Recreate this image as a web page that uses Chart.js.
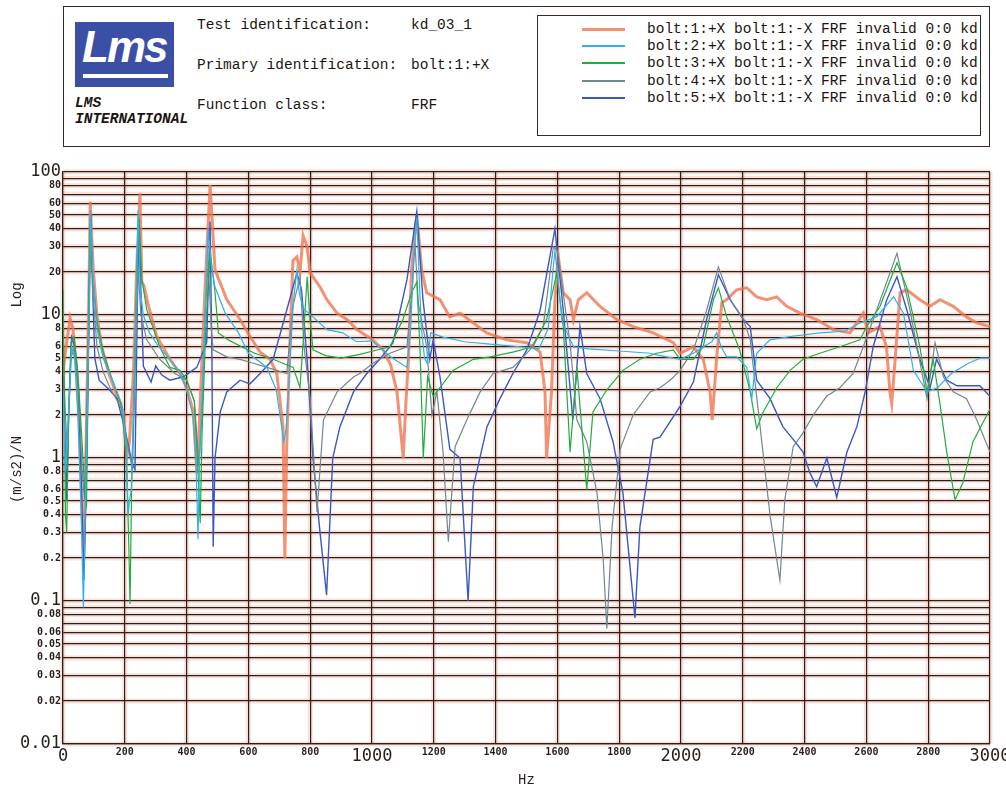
<!doctype html>
<html lang="en">
  <head>
    <meta charset="UTF-8" />
    <title>FRF bolt:1:+X</title>
    <script src="https://cdn.jsdelivr.net/npm/chart.js"></script>
    <style>
      body { margin: 0; background: #fff; font-family: "Liberation Mono", monospace; color: #1c1410; }
      .abs { position: absolute; white-space: pre; }
      #hdr { position: absolute; left: 63px; top: 6px; width: 925px; height: 139px; border: 1.5px solid #3a2824; }
      #logo { position: absolute; left: 75px; top: 22px; width: 99px; height: 65px; background: #3c4fa6; overflow: hidden; }
      #logo span { position: absolute; left: 7px; top: 0px; font: italic bold 44px "Liberation Sans", sans-serif; color: #fff; letter-spacing: -2px; }
      #logo i { position: absolute; left: 8px; right: 6px; bottom: 9px; height: 4px; background: #fff; }
      .txt { font-size: 14.5px; line-height: 16px; }
      #legbox { position: absolute; left: 537px; top: 15px; width: 442px; height: 119px; border: 1.5px solid #3a2824; }
      .sw { position: absolute; left: 582px; width: 43px; }
      #wrap { position: absolute; left: 0; top: 150px; width: 1006px; height: 639px; }
    </style>
  </head>
  <body>
    <div id="hdr"></div>
    <div id="logo"><span>Lms</span><i></i></div>
    <div class="abs txt" style="left:75px; top:95px; font-style:italic; font-weight:bold">LMS
INTERNATIONAL</div>
    <div class="abs txt" style="left:197px; top:17px">Test identification:</div>
    <div class="abs txt" style="left:411px; top:17px">kd_03_1</div>
    <div class="abs txt" style="left:197px; top:57px">Primary identification:</div>
    <div class="abs txt" style="left:411px; top:57px">bolt:1:+X</div>
    <div class="abs txt" style="left:197px; top:97px">Function class:</div>
    <div class="abs txt" style="left:411px; top:97px">FRF</div>
    <div id="legbox"></div>
    <div id="legend"></div>

    <div id="wrap"><canvas id="frf"></canvas></div>

    <script>
      // series labels and colours
      const seriesLabels = [
        "bolt:1:+X bolt:1:-X FRF invalid 0:0 kd",
        "bolt:2:+X bolt:1:-X FRF invalid 0:0 kd",
        "bolt:3:+X bolt:1:-X FRF invalid 0:0 kd",
        "bolt:4:+X bolt:1:-X FRF invalid 0:0 kd",
        "bolt:5:+X bolt:1:-X FRF invalid 0:0 kd",
      ];
      const seriesColors = ["rgba(240,118,82,0.8)", "#2fb2ea", "#1fad3e", "#6f8891", "#3a58c4"];
      const seriesWidths = [3, 1.2, 1.2, 1.2, 1.4];

      // [Hz, (m/s2)/N]
      const bolt1 = [[0,4],[10,6],[23,9.5],[32,8],[42,4.5],[52,2],[60,0.5],[66,0.22],[72,0.6],[78,3],[84,15],[88,62],[98,20.7],[110,10],[125,6],[152,3.7],[175,2.7],[195,2.1],[201,1.4],[206,1.0],[215,1.3],[228,4],[238,20],[249,71],[255,17],[262,16],[275,12],[303,7.1],[346,4.9],[379,3.9],[400,3.1],[422,2.1],[433,0.79],[440,1.5],[450,5],[462,20],[476,81],[492,20.7],[530,12.8],[573,9.3],[605,7.1],[638,5.5],[670,4.9],[692,3.9],[712,1.65],[718,0.2],[724,1.2],[734,6],[744,24],[757,25.5],[767,20],[777,36],[790,30],[800,19.7],[832,15.7],[854,12.8],[887,10.3],[919,9.3],[951,7.9],[1003,6.7],[1036,5.7],[1060,4.5],[1081,2.9],[1101,1.0],[1110,2.5],[1118,4.9],[1128,20.7],[1145,50],[1161,20.7],[1177,14.3],[1220,12.8],[1252,9.7],[1285,10.3],[1328,8.8],[1371,7.5],[1436,6.7],[1501,6.4],[1544,5.5],[1560,2.9],[1565,1.0],[1581,2.9],[1592,12.8],[1603,25.5],[1619,14.3],[1641,12.8],[1652,9.3],[1668,12.8],[1695,14.3],[1738,11.5],[1792,9.3],[1846,8.3],[1910,7.5],[1975,6.4],[1997,5.4],[2040,6.0],[2072,4.9],[2094,2.9],[2101,1.85],[2115,4.9],[2132,12.2],[2148,12.8],[2180,15],[2213,15.5],[2245,13.4],[2277,12.8],[2310,13.4],[2342,11.5],[2385,10.3],[2439,9.3],[2493,7.9],[2547,7.5],[2590,10.3],[2606,7.5],[2644,8.3],[2665,6.0],[2676,2.9],[2682,2.4],[2693,4.9],[2709,14.3],[2730,15],[2773,12.8],[2806,11.5],[2838,12.8],[2881,11.5],[2924,9.7],[2957,8.8],[3000,8.3]];
      const bolt2 = [[0,3],[8,0.8],[15,1.5],[28,6],[38,5],[48,2],[58,0.5],[66,0.09],[72,0.4],[80,3],[86,15],[89,54],[96,20],[110,8],[130,5],[160,3.5],[190,2.4],[205,1.2],[211,0.4],[215,0.5],[221,0.6],[230,3],[238,15],[243,54],[250,15],[260,10],[280,7.5],[310,6],[346,4.9],[380,3.9],[400,3.0],[420,2],[430,1.0],[437,0.27],[442,1],[455,5],[470,40],[480,22],[492,15.7],[525,10.3],[568,7.5],[600,5.4],[660,4.3],[690,3],[705,1.8],[715,1.3],[722,1.6],[730,3],[745,12],[757,20.7],[765,14],[780,11],[809,9.7],[854,7.9],[905,7.5],[950,6.5],[1000,6.6],[1060,5.1],[1113,4.3],[1125,8],[1135,25],[1145,48],[1152,20],[1160,8],[1170,5],[1178,4.6],[1190,7.5],[1230,7],[1300,6.5],[1400,6.2],[1480,6.0],[1540,5.8],[1570,8],[1585,20],[1592,28],[1600,20],[1615,9],[1652,6.0],[1700,5.8],[1800,5.6],[1900,5.4],[1932,5.2],[1997,4.9],[2040,5.4],[2072,6.0],[2100,6.5],[2115,7.5],[2130,6],[2148,5.1],[2180,5.1],[2213,4.3],[2229,2.6],[2245,5.4],[2288,6.7],[2360,7.1],[2450,7.5],[2530,7.7],[2579,8.8],[2633,9.7],[2688,13.4],[2720,10.3],[2752,4.1],[2796,2.9],[2830,3.1],[2875,3.9],[2930,4.6],[2970,5.0],[3000,5.0]];
      const bolt3 = [[0,15],[4,3],[8,0.4],[12,0.3],[18,2],[26,6.5],[36,7],[48,4],[60,1.5],[70,0.6],[76,0.45],[80,2],[85,20],[88,48],[95,20],[110,9],[130,5.5],[160,3.5],[190,2.3],[205,1.0],[212,0.3],[217,0.095],[222,0.6],[232,5],[240,25],[246,48],[255,18],[271,10.9],[313,6.0],[346,4.3],[379,4.1],[400,3.5],[425,2.5],[435,1.0],[444,0.35],[450,1.5],[462,8],[476,28.5],[492,14.3],[503,7.5],[535,6.7],[578,6.0],[620,5.4],[680,4.9],[745,4.3],[767,3.1],[780,8],[790,18.5],[800,9],[809,5.7],[850,5.2],[900,5.0],[961,5.3],[1003,5.6],[1058,6.0],[1100,9.3],[1128,14.3],[1145,17],[1155,6],[1166,1.0],[1180,3.7],[1198,2.7],[1220,3.1],[1262,4.1],[1328,4.9],[1382,5.1],[1456,5.5],[1521,6.0],[1565,9.3],[1598,19.7],[1619,8.3],[1641,1.1],[1663,4.3],[1695,0.6],[1715,2.1],[1760,3.0],[1812,4.1],[1867,4.9],[1921,5.4],[1975,5.7],[1997,4.9],[2040,4.9],[2072,6.0],[2105,12.8],[2121,15.5],[2148,9.7],[2190,5.7],[2224,2.9],[2245,1.6],[2266,2.1],[2310,3.1],[2353,4.1],[2395,4.9],[2449,5.4],[2514,6.0],[2579,6.7],[2601,8.3],[2644,11.5],[2699,23.2],[2730,15.7],[2773,6.0],[2796,2.9],[2816,4.9],[2838,2.4],[2860,1.1],[2887,0.51],[2912,0.67],[2945,1.3],[3000,2.2]];
      const bolt4 = [[0,5],[8,2],[15,1],[25,5],[38,6],[50,3],[62,0.8],[70,0.5],[78,3],[86,20],[90,40],[96,15],[110,6],[130,4],[152,3.1],[190,2.2],[210,1.2],[225,0.83],[232,3],[243,21.7],[252,10],[271,6.7],[313,4.9],[362,3.9],[400,3.5],[425,2.5],[440,0.9],[450,2],[460,10],[470,24],[480,8],[486,5.7],[530,5.1],[573,4.9],[616,4.6],[660,4.3],[724,3.9],[744,11.5],[767,18.5],[780,6],[800,2.6],[822,0.42],[843,1.85],[887,2.9],[941,3.7],[961,3.9],[1003,4.6],[1058,5.4],[1113,6.0],[1130,15],[1139,32],[1150,12],[1177,6.0],[1194,2.0],[1210,2.9],[1230,1.1],[1247,0.26],[1269,1.2],[1307,1.85],[1350,2.9],[1392,3.9],[1456,4.3],[1511,5.7],[1554,8.3],[1587,30],[1600,28],[1641,6.4],[1663,1.85],[1695,1.3],[1728,0.57],[1748,0.2],[1760,0.064],[1777,0.33],[1803,1.15],[1845,2.0],[1900,2.9],[1932,3.1],[1965,3.5],[1997,4.1],[2040,5.7],[2083,10.8],[2121,21.7],[2159,12.8],[2202,9.3],[2224,6.7],[2256,1.65],[2288,0.4],[2320,0.14],[2336,0.51],[2363,1.2],[2395,1.5],[2428,2.0],[2471,2.7],[2514,3.1],[2557,3.9],[2590,6.0],[2633,10.8],[2699,27],[2741,10.8],[2796,2.6],[2822,6.4],[2849,3.7],[2881,2.9],[2924,2.6],[2957,1.85],[3000,1.1]];
      const bolt5 = [[0,6],[6,1.5],[12,0.5],[18,2],[28,7],[38,6],[50,3],[60,0.6],[68,0.14],[74,0.5],[80,3],[86,20],[90,50],[96,15],[103,5],[117,3.5],[150,3],[175,2.6],[200,1.6],[225,0.9],[233,0.83],[240,10],[246,45],[252,15],[260,4.4],[285,3.4],[300,4.4],[320,3.8],[346,3.5],[390,3.7],[433,4.3],[465,6.4],[476,45],[482,5],[486,0.24],[492,1],[509,2.1],[530,2.9],[573,3.5],[605,3.3],[638,3.9],[680,4.9],[724,10.8],[757,19.7],[772,15],[790,4.9],[809,1.0],[830,0.33],[853,0.11],[873,1.0],[896,1.65],[940,2.9],[983,3.9],[1025,4.9],[1068,6.4],[1113,17.6],[1145,53],[1165,12.8],[1187,4.9],[1198,6.7],[1220,3.7],[1252,1.15],[1285,1.0],[1311,0.1],[1328,0.63],[1372,1.65],[1414,2.6],[1456,3.9],[1501,5.7],[1544,10.8],[1592,40],[1619,10.8],[1650,1.85],[1673,8.3],[1695,3.9],[1738,2.6],[1780,1.3],[1812,0.57],[1851,0.076],[1867,0.33],[1910,1.35],[1932,1.4],[1997,2.3],[2040,3.4],[2083,9.3],[2121,19.1],[2159,12.8],[2202,9.3],[2224,8.3],[2245,3.5],[2288,2.6],[2330,1.65],[2363,1.35],[2395,1.1],[2417,0.79],[2439,0.63],[2472,1.0],[2504,0.53],[2537,1.1],[2569,1.65],[2596,2.9],[2622,6.0],[2666,12.8],[2699,18.5],[2731,10.8],[2773,4.9],[2806,3.1],[2827,4.9],[2860,3.5],[2893,3.2],[2935,3.2],[2967,3.2],[3000,2.7]];
      const allSeries = [bolt1, bolt2, bolt3, bolt4, bolt5];

      // axis ticks
      const xTickValues = [0, 200, 400, 600, 800, 1000, 1200, 1400, 1600, 1800, 2000, 2200, 2400, 2600, 2800, 3000];
      const xBigTicks = [0, 1000, 2000, 3000];
      const yTickValues = [0.01,0.02,0.03,0.04,0.05,0.06,0.07,0.08,0.09,0.1,0.2,0.3,0.4,0.5,0.6,0.7,0.8,0.9,1,2,3,4,5,6,7,8,9,10,20,30,40,50,60,70,80,90,100];
      const yTickLabels = ["0.01","0.02","0.03","0.04","0.05","0.06","","0.08","","0.1","0.2","0.3","0.4","0.5","0.6","","0.8","","1","2","3","4","5","6","","8","","10","20","30","40","50","60","","80","","100"];
      const yBigTicks = [0.01, 0.1, 1, 10, 100];

      // legend in the header box
      const leg = document.getElementById("legend");
      seriesLabels.forEach((lab, i) => {
        const top = 29 + Math.round(i * 17.2);
        const h = i === 0 ? 3 : 2;
        const sw = document.createElement("div");
        sw.className = "sw";
        sw.style.top = top - 1 + "px";
        sw.style.height = h + "px";
        sw.style.background = seriesColors[i];
        leg.appendChild(sw);
        const t = document.createElement("div");
        t.className = "abs txt";
        t.style.left = "647px";
        t.style.top = top - 8 + "px";
        t.textContent = lab;
        leg.appendChild(t);
      });

      const tickFont = (big) =>
        big
          ? { family: "DejaVu Sans Mono", size: 17 }
          : { family: "DejaVu Sans Mono", size: 10, weight: "bold" };

      // pink halo under the grid
      const halo = {
        id: "halo",
        beforeDraw(chart) {
          const { ctx, chartArea: a, scales } = chart;
          ctx.save();
          ctx.strokeStyle = "rgba(242,170,148,0.35)";
          ctx.lineWidth = 5;
          scales.x.ticks.forEach((t) => {
            const p = scales.x.getPixelForValue(t.value);
            ctx.beginPath(); ctx.moveTo(p, a.top); ctx.lineTo(p, a.bottom); ctx.stroke();
          });
          scales.y.ticks.forEach((t) => {
            const p = scales.y.getPixelForValue(t.value);
            ctx.beginPath(); ctx.moveTo(a.left, p); ctx.lineTo(a.right, p); ctx.stroke();
          });
          ctx.restore();
        },
      };

      // y axis title in two pieces
      const yTitle = {
        id: "yTitle",
        afterDraw(chart) {
          const { ctx, chartArea: a } = chart;
          const h = a.bottom - a.top;
          ctx.save();
          ctx.fillStyle = "#2a1e1a";
          ctx.font = "14px 'Liberation Mono'";
          ctx.textAlign = "center";
          ctx.textBaseline = "middle";
          [["Log", 0.215], ["(m/s2)/N", 0.52]].forEach(([s, f]) => {
            ctx.save();
            ctx.translate(17, a.top + h * f);
            ctx.rotate(-Math.PI / 2);
            ctx.fillText(s, 0, 0);
            ctx.restore();
          });
          ctx.restore();
        },
      };

      const ctx = document.getElementById("frf").getContext("2d");
      const chart = new Chart(ctx, {
        type: "line",
        data: {
          datasets: allSeries.map((s, i) => ({
            label: seriesLabels[i],
            data: s.map(([x, y]) => ({ x, y })),
            borderColor: seriesColors[i],
            borderWidth: seriesWidths[i],
            pointRadius: 0,
            tension: 0,
            order: i === 0 ? 10 : 0,
          })),
        },
        options: {
          responsive: true,
          maintainAspectRatio: false,
          animation: false,
          layout: { padding: { top: 22, right: 16, left: 0, bottom: 0 } },
          plugins: { legend: { display: false }, tooltip: { enabled: false } },
          scales: {
            x: {
              type: "linear",
              min: 0,
              max: 3000,
              afterBuildTicks: (s) => { s.ticks = xTickValues.map((v) => ({ value: v })); },
              afterFit: (s) => { s.height = 45; s.paddingLeft = 0; s.paddingRight = 0; },
              grid: { color: "#2b201c", lineWidth: 1.2, drawTicks: false },
              border: { color: "#2b201c", width: 1.2 },
              ticks: {
                maxRotation: 0,
                autoSkip: false,
                padding: 2,
                color: "#2a1e1a",
                font: (c) => tickFont(c.tick && xBigTicks.includes(c.tick.value)),
                callback: (v) => String(v),
              },
              title: {
                display: true,
                text: "Hz",
                color: "#2a1e1a",
                font: { family: "Liberation Mono", size: 14 },
                padding: { top: 0, bottom: 0 },
              },
            },
            y: {
              type: "logarithmic",
              min: 0.01,
              max: 100,
              afterBuildTicks: (s) => { s.ticks = yTickValues.map((v) => ({ value: v })); },
              afterFit: (s) => { s.width = 63; },
              grid: { color: "#2b201c", lineWidth: 1.2, drawTicks: false },
              border: { color: "#2b201c", width: 1.2 },
              ticks: {
                autoSkip: false,
                padding: 2,
                color: "#2a1e1a",
                font: (c) => tickFont(c.tick && yBigTicks.includes(c.tick.value)),
                callback: (v, i) => yTickLabels[i],
              },
            },
          },
        },
        plugins: [halo, yTitle],
      });
    </script>
  </body>
</html>
